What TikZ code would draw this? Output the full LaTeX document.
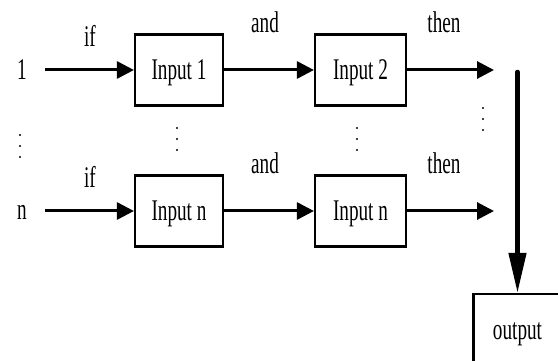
\documentclass[tikz,border=0pt]{standalone}
\usepackage{fontspec}
\setmainfont{Liberation Serif}[FakeStretch=0.64]
\usetikzlibrary{arrows.meta}
\begin{document}
\begin{tikzpicture}[x=1pt,y=-1pt,
  every node/.style={font=\fontsize{30}{30}\selectfont, inner sep=0pt},
  inbox/.style={draw, line width=2.2pt, minimum width=88pt, minimum height=71pt,
                text height=20pt, text depth=0pt},
  flow/.style={line width=3pt, -{Triangle[length=17pt,width=17pt]}},
  merge/.style={line width=4.5pt, line cap=round, -{Triangle[length=40pt,width=17pt]}},
  lbl/.style={anchor=base}
]
\clip (0,0) rectangle (558,361);

% rule boxes, first and last row
\node[inbox] (i1) at (179,70) {Input 1};
\node[inbox, minimum width=91pt] (i2) at (360.5,70) {Input 2};
\node[inbox] (n1) at (179,211) {Input n};
\node[inbox, minimum width=91pt] (n2) at (360.5,211) {Input n};
\node[inbox] (o) at (517.5,329.5) {output};

% free arrow ends, level with the boxes
\coordinate (s1) at (i1.west -| 45,0);
\coordinate (e1) at (i2.east -| 494,0);
\coordinate (sn) at (n1.west -| 45,0);
\coordinate (en) at (n2.east -| 494,0);
\coordinate (vtop) at (517.5,72);

% row labels
\node[lbl] (r1) at (22,80) {1};
\node[lbl] (rn) at (22,219) {n};
\node[lbl] (if1) at (90,47) {if};
\node[lbl] (ifn) at (90,188) {if};
\node[lbl] (and1) at (265,33) {and};
\node[lbl] (andn) at (265,174) {and};
\node[lbl] (then1) at (444,33) {then};
\node[lbl] (thenn) at (444,174) {then};

% connectors
\draw[flow] (s1) -- (i1.west);
\draw[flow] (i1.east) -- (i2.west);
\draw[flow] (i2.east) -- (e1);
\draw[flow] (sn) -- (n1.west);
\draw[flow] (n1.east) -- (n2.west);
\draw[flow] (n2.east) -- (en);
\draw[merge] (vtop) -- (o.north);

% vertical ellipses between the rows
\foreach \x/\y in {20/135, 177/128, 357/128, 483/108}{
  \foreach \d in {0,11,22}{
    \fill (\x,\y+\d) circle (1.1);
  }
}
\end{tikzpicture}
\end{document}
